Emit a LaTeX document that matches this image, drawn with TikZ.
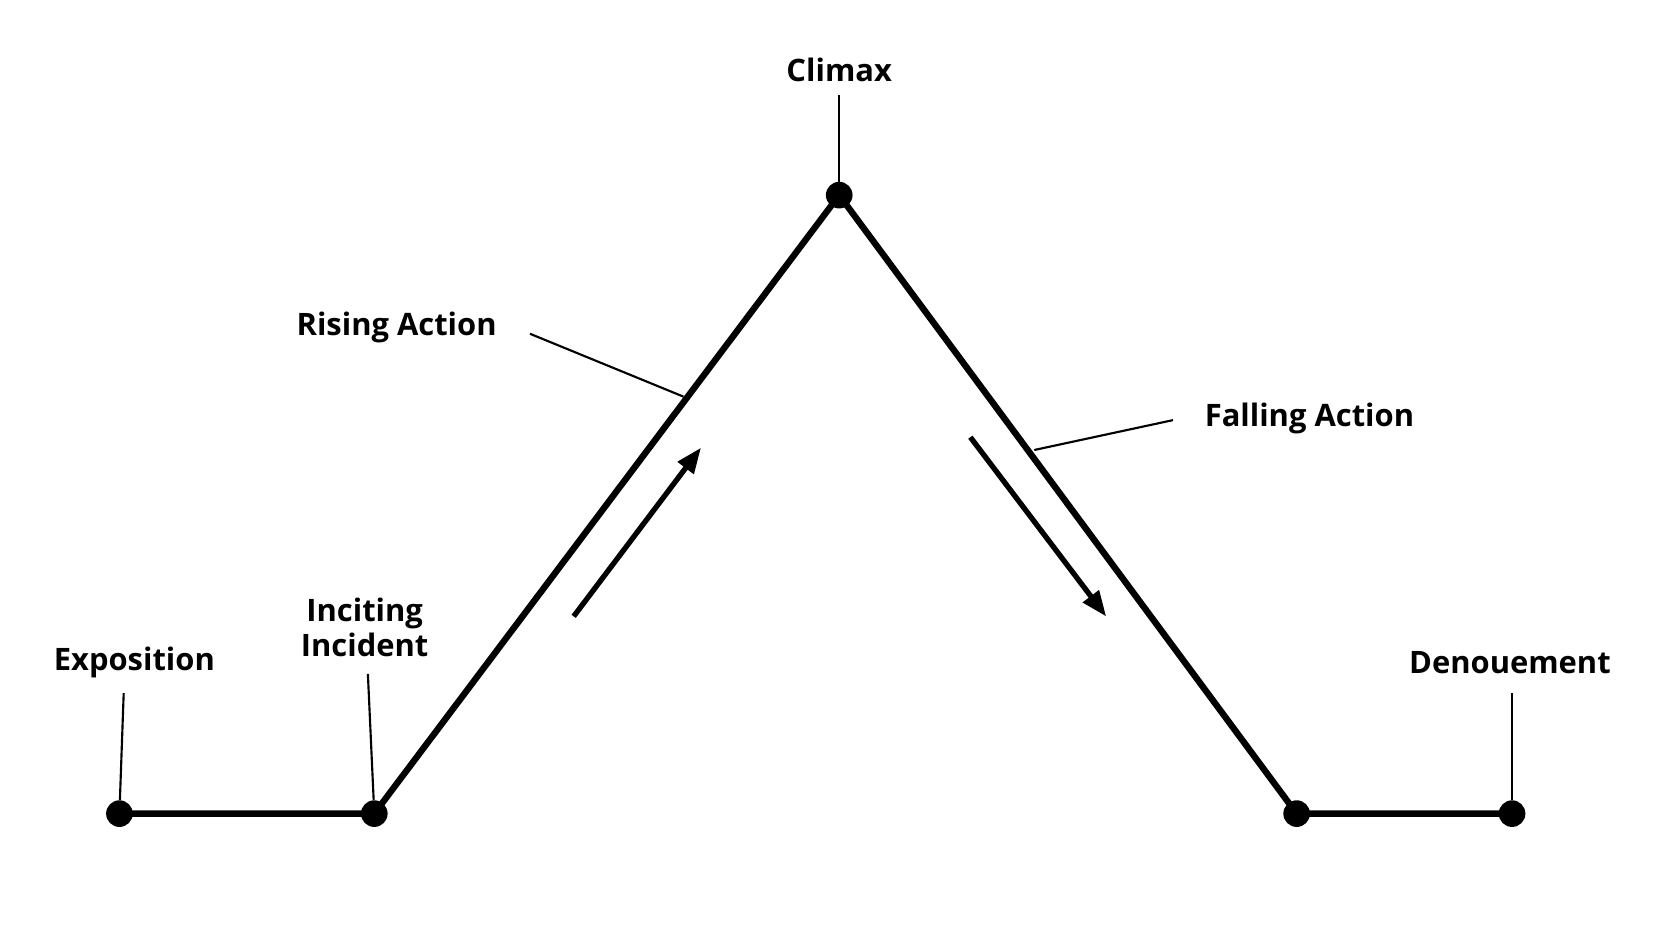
\documentclass[tikz,border=0pt]{standalone}
\usepackage{fontspec}
\setmainfont{Open Sans}
\usetikzlibrary{arrows.meta}
\begin{document}
\begin{tikzpicture}[x=1pt,y=-1pt,
  lbl/.style={font=\fontsize{29}{33}\selectfont\bfseries,align=center,inner sep=0pt},
  dot/.style={circle,fill=black,minimum size=25pt,inner sep=0pt},
  main/.style={line width=6pt,line join=miter},
  lead/.style={line width=2pt},
  dir/.style={line width=5pt,-{Triangle[length=24pt,width=18pt]},shorten >=-4pt}]
\useasboundingbox (0,0) rectangle (1568,882);
\node[dot] (e) at (112,763) {};
\node[dot] (i) at (351,763) {};
\node[dot] (c) at (787,183) {};
\node[dot] (f) at (1216,763) {};
\node[dot] (d) at (1418,763) {};
\draw[main] (e.center) -- (i.center) -- (c.center) -- (f.center) -- (d.center);
\node[lbl] (te) at (126,621) {Exposition};
\node[lbl] (ti) at (342,588) {Inciting\\Incident};
\node[lbl] (tc) at (787,66) {Climax};
\node[lbl] (tr) at (372,307) {Rising Action};
\node[lbl] (tf) at (1228,392) {Falling Action};
\node[lbl] (td) at (1416,621) {Denouement};
\coordinate (ra) at (641,372);
\coordinate (fa) at (970,422);
\draw[lead] (116,650) -- (e);
\draw[lead] (345,632) -- (i);
\draw[lead] (tc.south) ++(0,12) -- (c);
\draw[lead] (1418,650) -- (d);
\draw[lead] (497,313) -- (ra);
\draw[lead] (1100,394) -- (fa);
\coordinate (a1) at (538,578); \coordinate (a2) at (655,423);
\coordinate (b1) at (910,410); \coordinate (b2) at (1035,575);
\draw[dir] (a1) -- (a2);
\draw[dir] (b1) -- (b2);
\end{tikzpicture}
\end{document}
